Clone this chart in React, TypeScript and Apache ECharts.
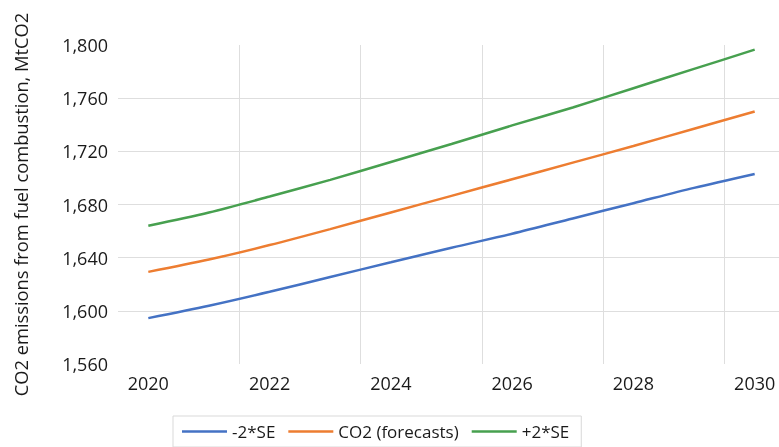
import React, { useEffect, useRef } from "react";
import * as echarts from "echarts";

const years = ["2020", "2021", "2022", "2023", "2024", "2025", "2026", "2027", "2028", "2029", "2030"];
const lowerSE = [1594.5, 1603.8, 1614.3, 1625.5, 1636.5, 1647.5, 1658, 1669.5, 1681, 1692.5, 1703];
const forecast = [1629.3, 1638.6, 1649.5, 1661.5, 1674, 1686.5, 1699, 1711.5, 1724, 1737, 1750];
const upperSE = [1664, 1674, 1686, 1698.5, 1712, 1725.5, 1739.5, 1753, 1767.5, 1782, 1796.5];
const seriesNames = ["-2*SE", "CO2 (forecasts)", "+2*SE"];
const colors = ["#4472C4", "#ED7D31", "#47A04F"];

const FONT = "'Open Sans', 'Noto Sans', sans-serif";

export default function App() {
  const ref = useRef<HTMLDivElement>(null);
  useEffect(() => {
    if (!ref.current) return;
    const chart = echarts.init(ref.current, undefined, { renderer: "svg" });
    const data = [lowerSE, forecast, upperSE];
    chart.setOption({
      animation: false,
      color: colors,
      textStyle: { fontFamily: FONT },
      grid: { left: 118, top: 45, width: 667, height: 319, outerBoundsMode: "none", containLabel: false },
      legend: {
        left: 173,
        top: 416,
        padding: [7, 12, 7, 9],
        borderColor: "#d9d9d9",
        borderWidth: 1,
        itemWidth: 45,
        itemHeight: 2.5,
        itemGap: 13,
        icon: "rect",
        textStyle: { fontSize: 17, color: "#1a1a1a", fontFamily: FONT, padding: [0, 0, 0, 0] },
        data: seriesNames,
      },
      xAxis: {
        type: "category",
        data: years,
        boundaryGap: true,
        axisLine: { show: false },
        axisTick: { show: false },
        axisLabel: { interval: 1, fontSize: 18, color: "#1a1a1a", margin: 10, fontFamily: FONT, hideOverlap: false },
        splitLine: {
          show: true,
          interval: 1,
          showMinLine: false,
          showMaxLine: false,
          lineStyle: { color: "#dedede", width: 1 },
        },
      },
      yAxis: {
        type: "value",
        min: 1560,
        max: 1800,
        interval: 40,
        name: "CO2 emissions from fuel combustion, MtCO2",
        nameLocation: "middle",
        nameGap: 89,
        nameTextStyle: { fontSize: 18.3, color: "#1a1a1a", fontFamily: FONT },
        axisLine: { show: false },
        axisTick: { show: false },
        axisLabel: {
          fontSize: 18,
          color: "#1a1a1a",
          margin: 10,
          fontFamily: FONT,
          formatter: (v: number) => v.toLocaleString("en-US"),
        },
        splitLine: {
          show: true,
          showMinLine: false,
          showMaxLine: false,
          lineStyle: { color: "#dedede", width: 1 },
        },
      },
      series: seriesNames.map((name, i) => ({
        name,
        type: "line",
        data: data[i],
        smooth: 0.3,
        showSymbol: false,
        symbol: "none",
        lineStyle: { width: 2.5, color: colors[i] },
        itemStyle: { color: colors[i] },
      })),
    });
    return () => chart.dispose();
  }, []);
  return <div ref={ref} style={{ position: "fixed", left: 0, top: 0, width: 779, height: 447 }} />;
}
